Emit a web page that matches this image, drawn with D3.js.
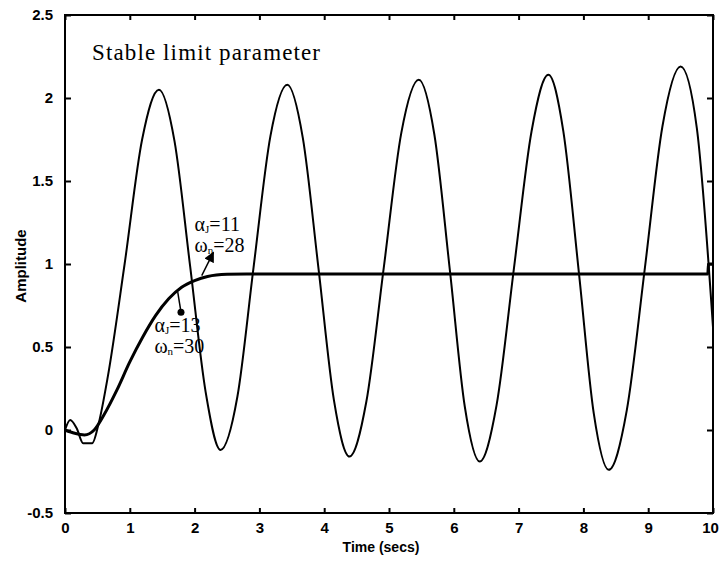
<!DOCTYPE html>
<html>
<head>
<meta charset="utf-8">
<script src="https://cdn.jsdelivr.net/npm/d3@7"></script>
<style>
  body { margin: 0; background: #fff; }
  svg { display: block; }
  .tick-label { font-family: "Liberation Sans", Arial, sans-serif; font-weight: bold; font-size: 15px; }
  .anno { font-family: "Liberation Serif", "Times New Roman", serif; font-size: 20px; }
</style>
</head>
<body>
<div id="chart-area"></div>
<script>
// x ticks (seconds) and y ticks (amplitude)
const xTicks = [0, 1, 2, 3, 4, 5, 6, 7, 8, 9, 10]
const yTicks = [-0.5, 0, 0.5, 1, 1.5, 2, 2.5]

// oscillating response
const oscT = [0, 0.08, 0.18, 0.28, 0.42, 0.52, 0.66, 0.92, 1.19, 1.45,
              1.69, 1.93, 2.17, 2.4,
              2.66, 2.91, 3.17, 3.43,
              3.67, 3.91, 4.15, 4.39,
              4.65, 4.92, 5.19, 5.46,
              5.7, 5.94, 6.17, 6.4,
              6.66, 6.93, 7.2, 7.46,
              7.69, 7.93, 8.16, 8.39,
              8.67, 8.95, 9.22, 9.5,
              9.75, 10.0]
const oscV = [0, 0.06, 0.01, -0.08, -0.08, 0.04, 0.32, 1.0, 1.75, 2.05,
              1.74, 0.99, 0.23, -0.12,
              0.2, 0.98, 1.77, 2.08,
              1.76, 0.98, 0.18, -0.16,
              0.17, 0.98, 1.79, 2.11,
              1.78, 0.96, 0.14, -0.19,
              0.15, 0.98, 1.8, 2.14,
              1.8, 0.95, 0.1, -0.24,
              0.12, 0.98, 1.83, 2.19,
              1.82, 0.62]

// stable step response
const stepT = [0, 0.15, 0.3, 0.45, 0.6, 0.8, 1.0, 1.2, 1.4, 1.6, 1.8, 2.0, 2.2, 2.5, 2.8, 9.92, 9.93, 10]
const stepV = [0, -0.02, -0.03, 0.0, 0.09, 0.24, 0.41, 0.56, 0.69, 0.79, 0.86, 0.9, 0.925, 0.938, 0.94, 0.94, 1.0, 1.0]

// annotation labels
const annoLines = [
    { a: "11", w: "28", t: 2.0, v: 1.2 },
    { a: "13", w: "30", t: 1.38, v: 0.59 }
]

const MARGIN = { LEFT: 65, RIGHT: 7, TOP: 15, BOTTOM: 48 }
const WIDTH = 720 - MARGIN.LEFT - MARGIN.RIGHT
const HEIGHT = 561 - MARGIN.TOP - MARGIN.BOTTOM

const svg = d3.select('#chart-area').append("svg")
    .attr("width", 720)
    .attr("height", 561)

const g = svg.append("g")
    .attr("transform", `translate(${MARGIN.LEFT},${MARGIN.TOP})`)

const x = d3.scaleLinear().domain([0, 10]).range([0, WIDTH])
const y = d3.scaleLinear().domain([-0.5, 2.5]).range([HEIGHT, 0])

// frame
g.append("rect")
    .attr("width", WIDTH).attr("height", HEIGHT)
    .attr("fill", "none").attr("stroke", "#000").attr("stroke-width", 2)

// axes with inward ticks
const xAxisB = g.append("g")
    .attr("transform", `translate(0, ${HEIGHT})`)
    .call(d3.axisBottom(x).tickValues(xTicks).tickSize(-5).tickPadding(15).tickFormat(d3.format("d")))
const yAxisL = g.append("g")
    .call(d3.axisLeft(y).tickValues(yTicks).tickSize(-6).tickPadding(12).tickFormat(d => d))
const xAxisT = g.append("g")
    .call(d3.axisTop(x).tickValues(xTicks).tickSize(-5).tickFormat(""))
const yAxisR = g.append("g")
    .attr("transform", `translate(${WIDTH}, 0)`)
    .call(d3.axisRight(y).tickValues(yTicks).tickSize(-6).tickFormat(""))

;[xAxisB, yAxisL, xAxisT, yAxisR].forEach(a => {
    a.select(".domain").remove()
    a.selectAll("line").attr("stroke", "#000").attr("stroke-width", 2)
    a.selectAll("text").attr("class", "tick-label").attr("fill", "#000")
})
xAxisB.selectAll("text").attr("dy", "0.3em")
// last label sits against the page edge
xAxisB.selectAll("text").filter(d => d === 10).attr("dx", -3)

// axis titles
g.append("text")
    .attr("x", WIDTH / 2 - 8)
    .attr("y", HEIGHT + 39)
    .attr("text-anchor", "middle")
    .attr("font-family", "Liberation Sans, Arial, sans-serif")
    .attr("font-weight", "bold")
    .attr("font-size", "14px")
    .text("Time (secs)")

g.append("text")
    .attr("transform", "rotate(-90)")
    .attr("x", -(y(1) + 2))
    .attr("y", -39)
    .attr("text-anchor", "middle")
    .attr("font-family", "Liberation Sans, Arial, sans-serif")
    .attr("font-weight", "bold")
    .attr("font-size", "15px")
    .text("Amplitude")

// title inside the plot
g.append("text")
    .attr("x", 27)
    .attr("y", 45)
    .attr("font-family", "Liberation Serif, Times New Roman, serif")
    .attr("font-size", "23px")
    .attr("textLength", 228)
    .text("Stable limit parameter")

const line = d3.line()
    .x(d => x(d[0]))
    .y(d => y(d[1]))
    .curve(d3.curveMonotoneX)

g.append("path")
    .datum(oscT.map((t, i) => [t, oscV[i]]))
    .attr("fill", "none").attr("stroke", "#000").attr("stroke-width", 2)
    .attr("d", line)

g.append("path")
    .datum(stepT.map((t, i) => [t, stepV[i]]))
    .attr("fill", "none").attr("stroke", "#000").attr("stroke-width", 3)
    .attr("d", line)

// annotation pointers
svg.append("defs").append("marker")
    .attr("id", "arrow")
    .attr("viewBox", "0 0 10 10").attr("refX", 9).attr("refY", 5)
    .attr("markerWidth", 7).attr("markerHeight", 7)
    .attr("orient", "auto")
    .append("path").attr("d", "M0,0L10,5L0,10z").attr("fill", "#000")

g.append("line")
    .attr("x1", x(2.11)).attr("y1", y(0.93))
    .attr("x2", x(2.29)).attr("y2", y(1.07))
    .attr("stroke", "#000").attr("stroke-width", 1.5)
    .attr("marker-end", "url(#arrow)")

g.append("line")
    .attr("x1", x(1.74)).attr("y1", y(0.83))
    .attr("x2", x(1.79)).attr("y2", y(0.71))
    .attr("stroke", "#000").attr("stroke-width", 1.5)
g.append("circle")
    .attr("cx", x(1.79)).attr("cy", y(0.71)).attr("r", 3.5)

annoLines.forEach(d => {
    const t1 = g.append("text").attr("class", "anno")
        .attr("x", x(d.t)).attr("y", y(d.v))
    t1.append("tspan").text("α")
    t1.append("tspan").attr("font-size", "11px").attr("dy", 2).text("J")
    t1.append("tspan").attr("dy", -2).text("=" + d.a)

    const t2 = g.append("text").attr("class", "anno")
        .attr("x", x(d.t)).attr("y", y(d.v) + 21)
    t2.append("tspan").text("ω")
    t2.append("tspan").attr("font-size", "11px").attr("dy", 2).text("n")
    t2.append("tspan").attr("dy", -2).text("=" + d.w)
})
</script>
</body>
</html>
